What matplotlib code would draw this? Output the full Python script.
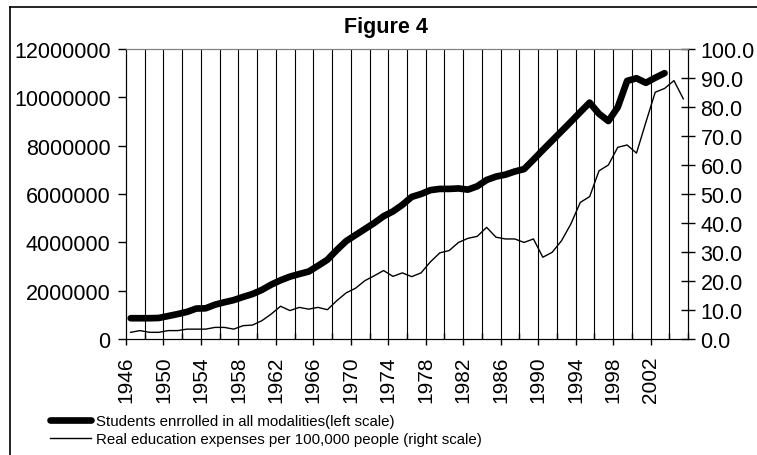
import numpy as np
import matplotlib
matplotlib.use("Agg")
import matplotlib.pyplot as plt
from matplotlib.lines import Line2D
from matplotlib.ticker import FixedLocator, FuncFormatter

plt.rcParams["font.family"] = ["Liberation Sans", "DejaVu Sans"]

years = np.arange(1946, 2006)

# students enrolled, millions (left scale) - no data for 2004, 2005
students_m = [
    0.86, 0.86, 0.86, 0.87, 0.95, 1.03, 1.12, 1.26, 1.27, 1.42,
    1.52, 1.61, 1.74, 1.86, 2.03, 2.25, 2.43, 2.58, 2.69, 2.79,
    3.03, 3.28, 3.68, 4.05, 4.30, 4.55, 4.80, 5.08, 5.28, 5.55,
    5.88, 6.00, 6.16, 6.21, 6.21, 6.23, 6.18, 6.32, 6.58, 6.72,
    6.80, 6.93, 7.03, 7.42, 7.82, 8.21, 8.60, 8.99, 9.39, 9.78,
    9.32, 9.02, 9.59, 10.68, 10.79, 10.60, 10.81, 11.00, np.nan, np.nan,
]

# real education expenses per 100,000 people (right scale)
expenses = [
    2.3, 2.9, 2.3, 2.3, 2.9, 2.9, 3.4, 3.4, 3.4, 4.0,
    4.0, 3.4, 4.6, 4.8, 6.3, 8.6, 11.3, 9.8, 10.9, 10.3,
    10.9, 10.1, 13.2, 15.9, 17.5, 20.1, 21.8, 23.6, 21.6, 22.8,
    21.5, 22.8, 26.6, 29.7, 30.5, 33.3, 34.7, 35.4, 38.5, 35.1,
    34.5, 34.5, 33.3, 34.5, 28.2, 29.9, 33.9, 39.7, 47.1, 49.1,
    58.0, 60.0, 66.1, 66.9, 64.1, 74.7, 85.1, 86.4, 89.1, 82.8,
]

label_students = "Students enrrolled in all modalities(left scale)"
label_expenses = "Real education expenses per 100,000 people (right scale)"

students = np.array(students_m) * 1e6

W, H = 757, 456
fig = plt.figure(figsize=(W / 100, H / 100), dpi=100)
ax = fig.add_axes([126 / W, 1 - 340 / H, (688 - 126) / W, (340 - 50) / H])
ax2 = ax.twinx()

# vertical grid lines every two years (category boundaries)
for g in np.arange(1947.5, 2005.5, 2):
    ax.axvline(g, color="black", lw=0.8, zorder=0)

ax.plot(years, students, color="black", lw=4.8, solid_capstyle="round", zorder=3)
ax2.plot(years, expenses, color="black", lw=1.0, zorder=3)

ax.set_xlim(1945.5, 2005.5)
ax.set_ylim(0, 12000000)
ax2.set_ylim(0, 100)

ax.set_yticks(np.arange(0, 12000001, 2000000))
ax.yaxis.set_major_formatter(FuncFormatter(lambda v, p: "%d" % v))
ax2.set_yticks(np.arange(0, 101, 10))
ax2.yaxis.set_major_formatter(FuncFormatter(lambda v, p: "%.1f" % v))

major_x = np.arange(1945.5, 2002, 4)
ax.xaxis.set_major_locator(FixedLocator(major_x))
ax.set_xticklabels([str(int(v + 0.5)) for v in major_x], rotation=90)
ax.xaxis.set_minor_locator(FixedLocator(np.arange(1947.5, 2005.6, 2)))

ax.tick_params(axis="x", which="major", direction="out", length=4, width=1,
               labelsize=15, pad=8)
ax.tick_params(axis="x", which="minor", direction="in", length=4, width=1)
ax.tick_params(axis="y", direction="out", length=6, width=1, labelsize=15.5, pad=5)
ax2.tick_params(axis="y", direction="inout", length=10, width=1, labelsize=15.5, pad=4)

for a in (ax, ax2):
    a.spines["top"].set_color("#808080")
    a.spines["left"].set_color("black")
    a.spines["right"].set_color("black")
    a.spines["bottom"].set_color("black")

fig.text(386 / W, 1 - 27 / H, "Figure 4", ha="center", va="center",
         fontsize=15.5, fontweight="bold")

# chart area border (left and top edges visible)
fig.add_artist(Line2D([10 / W, 10 / W], [0, 1 - 8 / H], transform=fig.transFigure,
                      color="black", lw=1.2))
fig.add_artist(Line2D([10 / W, 1], [1 - 8 / H, 1 - 8 / H], transform=fig.transFigure,
                      color="black", lw=1.2))

handles = [
    Line2D([], [], color="black", lw=4.8, solid_capstyle="round"),
    Line2D([], [], color="black", lw=1.0),
]
leg = fig.legend(handles, [label_students, label_expenses], loc="upper left",
                 bbox_to_anchor=(50 / W, 1 - 415 / H), frameon=False,
                 prop={"size": 10.8},
                 handlelength=2.75, handletextpad=0.3, labelspacing=0.3,
                 borderpad=0, borderaxespad=0)

plt.savefig("out.png", dpi=100)
